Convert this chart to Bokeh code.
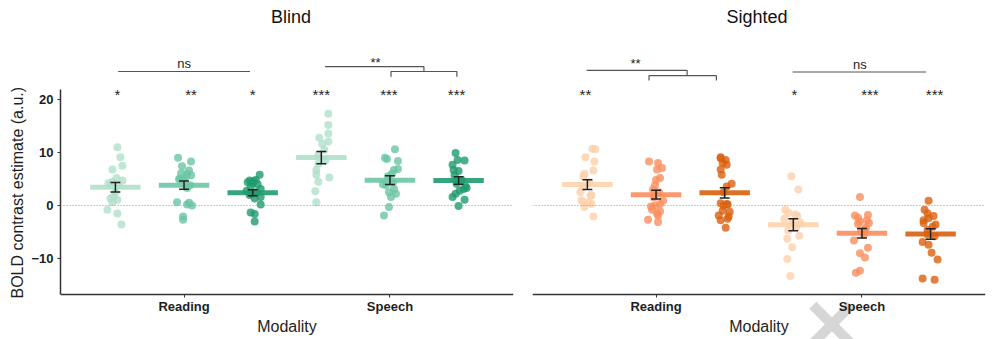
import numpy as np
from bokeh.plotting import figure
from bokeh.layouts import row
from bokeh.models import ColumnDataSource, Span, FixedTicker, Title
from bokeh.core.properties import value
from bokeh.embed import file_html
from bokeh.resources import INLINE

# ---------------------------------------------------------------- data
modalities = ["Reading", "Speech"]

# BOLD contrast estimates (a.u.), one value per participant
blind_reading_1 = [11.0, 9.1, 7.5, 6.8, 5.2, 4.7, 4.2, 3.8, 4.5, 1.3, 1.6, 1.1, 0.6, 2.5, -0.8, -1.5, -3.6, 4.0]
blind_reading_2 = [9.0, 8.3, 7.4, 6.6, 6.1, 6.0, 5.7, 4.7, 5.0, 3.3, 3.8, 0.6, 0.2, 0.0, 0.5, -2.1, -2.7, 5.0, 5.5]
blind_reading_3 = [5.8, 4.8, 4.7, 4.4, 4.2, 4.0, 3.5, 3.1, 2.8, 2.5, 2.0, 1.6, 1.3, 2.2, 0.2, -1.3, -1.6, -3.0, 4.6]
blind_speech_1 = [17.3, 15.2, 13.6, 12.8, 12.1, 11.6, 10.5, 9.5, 7.9, 6.7, 5.8, 5.3, 4.5, 2.7, 0.6, 8.5]
blind_speech_2 = [10.6, 9.0, 8.8, 8.4, 6.7, 6.9, 5.5, 4.0, 4.3, 3.1, 2.5, 2.2, 1.6, -0.3, -1.9, 3.8, 6.0]
blind_speech_3 = [9.9, 8.6, 8.5, 7.7, 6.7, 6.5, 5.7, 4.8, 4.1, 3.1, 3.3, 2.8, 1.6, 1.1, -0.1, 2.2, 3.6]

sighted_reading_1 = [10.7, 10.6, 9.1, 8.3, 6.6, 6.0, 5.5, 4.4, 3.5, 2.5, 0.6, -0.3, 0.3, -2.1, 2.0, 1.0, 0.5, 1.8]
sighted_reading_2 = [8.3, 8.0, 7.1, 6.8, 5.2, 4.8, 3.8, 3.0, 2.5, 1.5, 0.9, 0.3, -0.8, -1.1, -1.9, -2.7, -3.1, -0.2, -1.5, 0.0]
sighted_reading_3 = [9.1, 8.9, 8.6, 8.0, 7.7, 6.8, 5.8, 3.6, 4.1, 2.5, 0.2, 0.4, 0.3, 0.0, -1.2, -1.9, -2.5, -2.1, -2.8, -4.2, -1.0]
sighted_speech_1 = [5.5, 3.0, -0.8, -1.7, -1.4, -2.5, -2.0, -3.2, -4.7, -5.7, -6.3, -7.9, -10.1, -13.3, -3.0, -4.0]
sighted_speech_2 = [1.6, -1.9, -2.3, -1.8, -2.8, -3.3, -3.5, -4.2, -4.9, -5.5, -6.6, -8.0, -9.0, -9.8, -12.3, -12.7, -3.0, -4.5]
sighted_speech_3 = [0.9, -0.8, -1.5, -2.8, -2.4, -3.6, -4.0, -3.3, -4.6, -5.8, -6.9, -7.4, -8.9, -10.2, -13.8, -14.0, -5.5, -2.0]

# significance of each condition against zero
blind_stars = ["*", "**", "*", "***", "***", "***"]
sighted_stars = ["**", "", "", "*", "***", "***"]

# ---------------------------------------------------------------- layout
# horizontal jitter of the individual dots (steps of JITTER_STEP)
JITTER_STEP = 1 / 206
blind_jitter = [
    [2, 5, 7, -3, 1, 7, -7, 3, -3, -5, -2, 2, -3, 0, -8, 2, 6, -4],
    [-6, 7, -2, 5, -3, 3, 7, 0, -4, 3, 6, -7, 3, 8, 5, -1, -1, -5, 2],
    [7, 3, -3, -5, 0, 5, -2, 8, -6, 4, -3, 8, 2, -1, 8, -2, 2, 2, 1],
    [7, 7, 7, -2, 7, 1, 3, -3, -3, -5, -5, 8, -3, -6, -5, 4],
    [5, -5, -3, 8, 4, 8, -2, -7, 3, 4, -1, 6, 1, -1, -6, -4, 2],
    [-3, -1, 6, -6, -5, 0, -4, 3, -2, 5, 8, 1, -6, 6, 0, -3, 7],
]
sighted_jitter = [
    [5, 8, -2, 7, 6, -3, -4, 2, -5, -7, -4, -3, 4, 6, 4, -6, 1, 3],
    [-7, 2, 6, 1, 4, 0, -1, -3, 3, -2, 7, 4, -4, 4, 2, -8, 2, -5, 1, -1],
    [-4, -4, 1, -2, 2, -4, -3, 2, 7, -1, 3, -4, 2, -1, 5, -6, 3, 4, -4, 1, -2],
    [-2, 5, -8, 2, -5, -9, 4, 7, -5, 6, -6, -1, -6, -3, -1, 3],
    [-2, -7, -4, 6, 5, 7, -4, 4, -1, 2, -8, 6, -2, 3, -2, -6, -2, 3],
    [-2, -6, -3, -7, -2, 5, 2, -7, -3, 4, -8, -2, 1, 7, -8, 4, -3, 3],
]

FONT = "Liberation Sans"
TEXT = "#1e1e1e"
AXIS = "#333333"
DODGE = [-1 / 3, 0.0, 1 / 3]
PANEL_BOTTOM, PANEL_TOP = -16.8, 21.9      # extent of the axis lines
Y_MIN, Y_MAX = -25.3, 38.7                 # whole drawing area
X_MIN, X_MAX = 0.4, 2.6
STAR_Y = 20.9

blind_palette = ["#b0e0ca", "#6cc6a4", "#1e9b6e"]
sighted_palette = ["#fdd1ab", "#fa8e5e", "#d9600f"]


def build_panel(title, title_x, groups, jitter, palette, stars, star_nudge,
                show_y, left, right):
    p = figure(frame_width=453, frame_height=339,
               x_range=(X_MIN, X_MAX), y_range=(Y_MIN, Y_MAX),
               output_backend="svg", toolbar_location=None,
               min_border_top=0, min_border_bottom=0,
               min_border_left=left, min_border_right=right,
               y_axis_location="left" if show_y else None)
    p.outline_line_color = None
    p.xgrid.grid_line_color = None
    p.ygrid.grid_line_color = None
    p.background_fill_color = "white"
    p.border_fill_color = "white"

    # x axis, pinned to the bottom of the panel
    xa = p.xaxis[0]
    xa.fixed_location = PANEL_BOTTOM
    xa.ticker = FixedTicker(ticks=[1, 2])
    xa.major_label_overrides = {1: modalities[0], 2: modalities[1]}
    xa.minor_tick_line_color = None
    xa.major_tick_in = 0
    xa.major_tick_out = 3
    xa.major_tick_line_color = AXIS
    xa.axis_line_color = AXIS
    xa.axis_line_width = 1.5
    xa.major_label_text_font = FONT
    xa.major_label_text_font_style = "bold"
    xa.major_label_text_font_size = "13px"
    xa.major_label_text_color = TEXT
    xa.major_label_standoff = 2
    xa.axis_label = "Modality"
    xa.axis_label_text_font = FONT
    xa.axis_label_text_font_style = "normal"
    xa.axis_label_text_font_size = "16px"
    xa.axis_label_text_color = TEXT
    xa.axis_label_standoff = 0

    if show_y:
        ya = p.yaxis[0]
        ya.ticker = FixedTicker(ticks=[-10, 0, 10, 20])
        ya.bounds = (PANEL_BOTTOM, PANEL_TOP)
        ya.minor_tick_line_color = None
        ya.major_tick_in = 0
        ya.major_tick_out = 3
        ya.major_tick_line_color = AXIS
        ya.axis_line_color = AXIS
        ya.axis_line_width = 1.5
        ya.major_label_text_font = FONT
        ya.major_label_text_font_style = "bold"
        ya.major_label_text_font_size = "13px"
        ya.major_label_text_color = TEXT
        ya.major_label_standoff = 4
        # axis title, anchored near the bottom so it is centred on the axis line
        p.add_layout(Title(text="BOLD contrast estimate (a.u.)", align="left",
                           offset=41, text_font=FONT, text_font_style="normal",
                           text_font_size="16px", text_color=TEXT, standoff=6),
                     "left")

    p.add_layout(Span(location=0, dimension="width", line_color="#9a9a9a",
                      line_width=1, line_dash="1 2"))

    px, py, pc = [], [], []
    cx, means, lo, hi, bar_col = [], [], [], [], []
    for gi, vals in enumerate(groups):
        m = gi // 3
        k = gi % 3
        centre = m + 1 + DODGE[k]
        arr = np.asarray(vals, dtype=float)
        for v, j in zip(arr, jitter[gi]):
            px.append(centre + j * JITTER_STEP)
            py.append(v)
            pc.append(palette[k])
        mu = arr.mean()
        se = arr.std(ddof=1) / np.sqrt(len(arr))
        cx.append(centre)
        means.append(mu)
        lo.append(mu - se)
        hi.append(mu + se)
        bar_col.append(palette[k])

    p.scatter(x="x", y="y", color="c", source=ColumnDataSource(dict(x=px, y=py, c=pc)),
              size=8, fill_alpha=0.8, line_alpha=0.0)

    p.rect(x=cx, y=means, width=0.245, height=5, height_units="screen",
           fill_color=bar_col, line_color=None, fill_alpha=0.9)

    cap = 0.024
    p.segment(x0=cx, y0=lo, x1=cx, y1=hi, line_color="#222222", line_width=1.5)
    p.segment(x0=[c - cap for c in cx], y0=lo, x1=[c + cap for c in cx], y1=lo,
              line_color="#222222", line_width=1.5)
    p.segment(x0=[c - cap for c in cx], y0=hi, x1=[c + cap for c in cx], y1=hi,
              line_color="#222222", line_width=1.5)

    sx = [c + n * JITTER_STEP for c, n in zip(cx, star_nudge)]
    p.text(x=sx, y=[STAR_Y] * len(sx), text=stars, text_align="center",
           text_baseline="middle", text_font=value(FONT), text_font_size="15px",
           text_color=TEXT)

    p.text(x=[title_x], y=[35.5], text=[title], text_align="center",
           text_baseline="middle", text_font=value(FONT), text_font_size="18px",
           text_color="#111111")
    return p


def bracket_line(p, xs, ys):
    p.line(x=xs, y=ys, line_color="#555555", line_width=1.2)


def label(p, x, y, t, size="13px"):
    p.text(x=[x], y=[y], text=[t], text_align="center", text_baseline="middle",
           text_font=value(FONT), text_font_size=size, text_color=TEXT)


left = build_panel("Blind", 1.52,
                   [blind_reading_1, blind_reading_2, blind_reading_3,
                    blind_speech_1, blind_speech_2, blind_speech_3],
                   blind_jitter, blind_palette, blind_stars,
                   [2, 7, 0, 0, -1, -2], True, 60, 19)
right = build_panel("Sighted", 1.49,
                    [sighted_reading_1, sighted_reading_2, sighted_reading_3,
                     sighted_speech_1, sighted_speech_2, sighted_speech_3],
                    sighted_jitter, sighted_palette, sighted_stars,
                    [-2, 0, 0, 1, 8, 4], False, 0, 15)

# pairwise comparison brackets, blind group
bracket_line(left, [0.68, 1.32], [25.3, 25.3])
label(left, 1.0, 26.9, "ns")
bracket_line(left, [1.684, 2.165, 2.165], [26.2, 26.2, 25.3])
bracket_line(left, [2.005, 2.005, 2.325, 2.325], [24.3, 25.3, 25.3, 24.3])
label(left, 1.93, 27.0, "**", "13px")

# pairwise comparison brackets, sighted group
bracket_line(right, [0.663, 1.151, 1.151], [25.5, 25.5, 24.5])
bracket_line(right, [0.966, 0.966, 1.293, 1.293], [23.6, 24.5, 24.5, 23.6])
label(right, 0.9, 26.9, "**", "13px")
bracket_line(right, [1.663, 2.312], [25.2, 25.2])
label(right, 1.99, 26.7, "ns")


# faint grey cross below the sighted panel (two thick strokes, cut by the edge)
def stroke(cx, cy, dx, dy, reach_a, reach_b, half_w):
    # quad along direction (dx, dy) in pixels, converted to data units
    sx_unit = (X_MAX - X_MIN) / 453
    sy_unit = (Y_MAX - Y_MIN) / 339
    n = np.hypot(dx, dy)
    ux, uy = dx / n, dy / n
    vx, vy = -uy, ux
    pts = [(-reach_a, -half_w), (-reach_a, half_w), (reach_b, half_w), (reach_b, -half_w)]
    xs = [cx + (a * ux + b * vx) * sx_unit for a, b in pts]
    ys = [cy - (a * uy + b * vy) * sy_unit for a, b in pts]
    return xs, ys


c_x, c_y = 1.854, -22.45
s1 = stroke(c_x, c_y, 1, 1, 27, 45, 5)
s2 = stroke(c_x, c_y, -1, 1, 27, 45, 5)
right.patches(xs=[s1[0], s2[0]], ys=[s1[1], s2[1]], fill_color="#d6d6d6",
              line_color=None)

layout = row(left, right, spacing=0)
open("out.html", "w").write(file_html(layout, INLINE))
